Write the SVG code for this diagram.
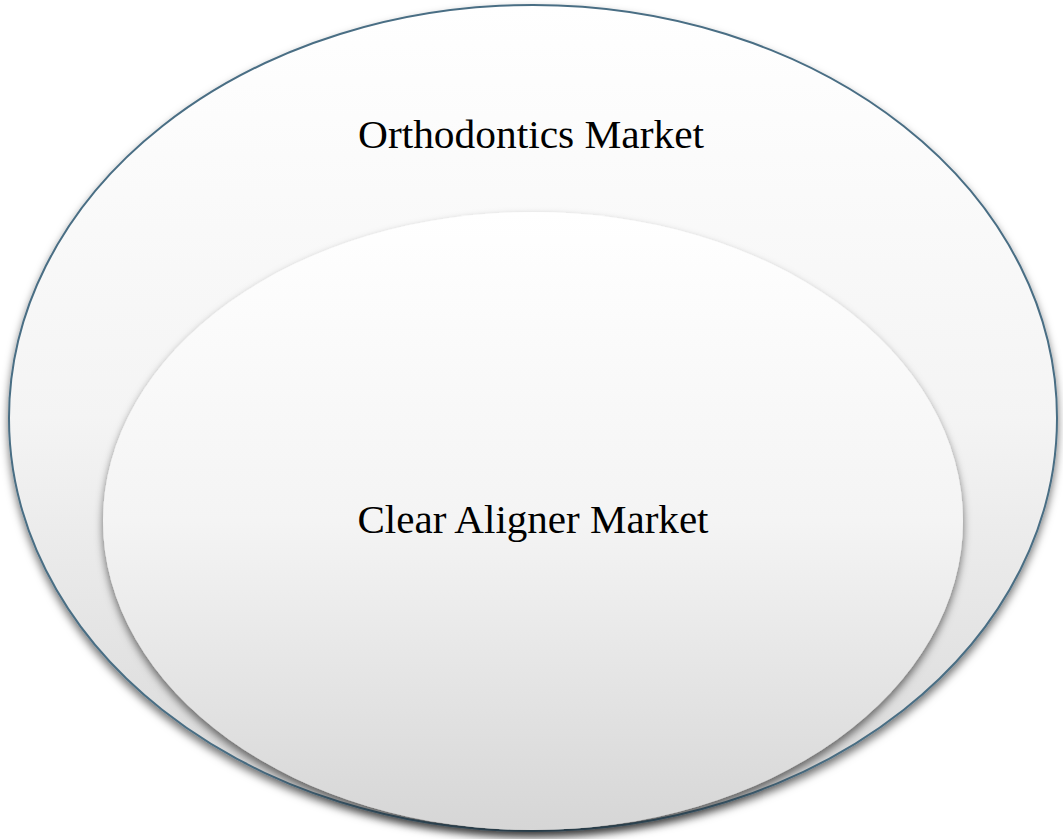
<svg xmlns="http://www.w3.org/2000/svg" width="1063" height="839" viewBox="0 0 1063 839">
<defs>
<linearGradient id="g" x1="0" y1="0" x2="0" y2="1">
<stop offset="0" stop-color="#ffffff"/>
<stop offset="0.5" stop-color="#f4f4f4"/>
<stop offset="1" stop-color="#d6d6d6"/>
</linearGradient>
<filter id="sh" x="-10%" y="-10%" width="120%" height="125%">
<feDropShadow dx="0" dy="5" stdDeviation="4" flood-color="#000" flood-opacity="0.55"/>
</filter>
</defs>
<style>
.lbl{font-family:"Liberation Serif","DejaVu Serif",serif;font-size:40px;fill:#000;text-anchor:middle}
</style>
<rect width="1063" height="839" fill="#fff"/>
<g id="orthodontics">
<ellipse cx="533" cy="418" rx="524" ry="413" fill="url(#g)" stroke="#4a6e84" stroke-width="2" filter="url(#sh)"/>
<text class="lbl" x="531" y="148" textLength="346" lengthAdjust="spacingAndGlyphs">Orthodontics Market</text>
</g>
<g id="clear-aligner">
<ellipse cx="533" cy="521" rx="430" ry="309" fill="url(#g)" filter="url(#sh)"/>
<text class="lbl" x="533" y="533" textLength="351" lengthAdjust="spacingAndGlyphs">Clear Aligner Market</text>
</g>
<g id="connectors"/>
</svg>
